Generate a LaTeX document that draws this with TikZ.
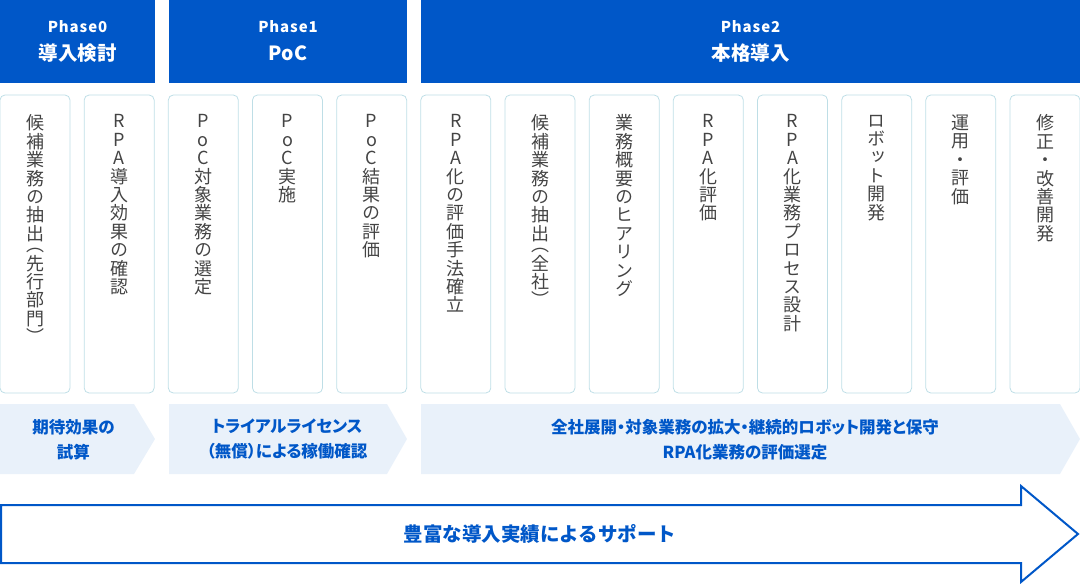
\documentclass[tikz,border=0pt]{standalone}
\usepackage{fontspec}
\setmainfont{Noto Sans CJK JP}
\newfontfamily\vertfont[RawFeature=+vert]{Noto Sans CJK JP}
\newfontfamily\paltfont[RawFeature=+palt]{Noto Sans CJK JP}
\newfontfamily\spacedfont[LetterSpace=6]{Noto Sans CJK JP}
\usepackage{xcolor}
\usepackage{tikz}
\usetikzlibrary{positioning}

\definecolor{phaseblue}{RGB}{0,87,200}
\definecolor{cellline}{RGB}{190,222,230}
\definecolor{celltext}{RGB}{68,68,68}
\definecolor{chevfill}{RGB}{233,241,250}

\begin{document}
\begin{tikzpicture}[x=1pt, y=-1pt,
    phasebox/.style={fill=phaseblue, inner sep=0pt, minimum height=83pt},
    phaselabel/.style={text=white, inner sep=0pt, font=\spacedfont\bfseries\fontsize{15}{18}\selectfont},
    phasetitle/.style={text=white, inner sep=0pt, font=\bfseries\fontsize{19.5}{22}\selectfont},
    taskbox/.style={draw=cellline, line width=0.8pt, rounded corners=5pt, minimum width=70pt, minimum height=298pt, inner sep=0pt},
    tasktext/.style={inner sep=0pt, align=center, text=celltext, font=\vertfont\fontsize{18}{18.4}\selectfont},
    sumtext/.style={text=phaseblue, align=center, font=\paltfont\bfseries\fontsize{16.5}{25}\selectfont}]

    \useasboundingbox (0,0) rectangle (1080,584);

    % phase headers
    \foreach \n/\xl/\xr/\ttl in {0/0/155/導入検討, 1/169/407/PoC, 2/421/1080/本格導入}
    {
        \pgfmathsetmacro{\xm}{(\xl+\xr)/2}
        \pgfmathsetmacro{\boxw}{\xr-\xl}
        \node[phasebox, minimum width=\boxw pt] (ph\n) at (\xm,41.5) {};
        \node[phaselabel] (ph\n-lbl) at (\xm,27) {Phase\n};
        \node[phasetitle] (ph\n-ttl) at (\xm,53) {\ttl};
    }

    % task columns (vertical text)
    \foreach \i/\txt in {
        1/{候\\補\\業\\務\\の\\抽\\出\\[-7pt]（\\先\\行\\部\\門\\）},
        2/{R\\P\\A\\導\\入\\効\\果\\の\\確\\認},
        3/{P\\o\\C\\対\\象\\業\\務\\の\\選\\定},
        4/{P\\o\\C\\実\\施},
        5/{P\\o\\C\\結\\果\\の\\評\\価},
        6/{R\\P\\A\\化\\の\\評\\価\\手\\法\\確\\立},
        7/{候\\補\\業\\務\\の\\抽\\出\\[-7pt]（\\全\\社\\）},
        8/{業\\務\\概\\要\\の\\ヒ\\ア\\リ\\ン\\グ},
        9/{R\\P\\A\\化\\評\\価},
        10/{R\\P\\A\\化\\業\\務\\プ\\ロ\\セ\\ス\\設\\計},
        11/{ロ\\ボ\\ッ\\ト\\開\\発},
        12/{運\\用\\・\\評\\価},
        13/{修\\正\\・\\改\\善\\開\\発}}
    {
        \pgfmathsetmacro{\cx}{35+(\i-1)*84.1667}
        \node[taskbox] (col\i) at (\cx,244) {};
        \node[tasktext, below=20pt of col\i.north] (lbl\i) {\txt};
    }

    % chevrons
    \fill[chevfill] (0,404) -- (134,404) -- (155,439) -- (134,474) -- (0,474) -- cycle;
    \fill[chevfill] (169,404) -- (387,404) -- (407,439) -- (387,474) -- (169,474) -- cycle;
    \fill[chevfill] (421,404) -- (1060,404) -- (1080,439) -- (1060,474) -- (421,474) -- cycle;

    \node[sumtext] (sum0) at (73.5,439.5) {期待効果の\\試算};
    \node[sumtext] (sum1) at (287,439.5) {トライアルライセンス\\（無償）による稼働確認};
    \node[sumtext] (sum2) at (745,439.5) {全社展開・対象業務の拡大・継続的ロボット開発と保守\\RPA化業務の評価選定};

    % support arrow
    \draw[phaseblue, line width=2pt] (1,505) -- (1021,505) -- (1021,486) -- (1078,534) -- (1021,582) -- (1021,563) -- (1,563) -- cycle;
    \node[text=phaseblue, font=\bfseries\fontsize{19.5}{22}\selectfont] (support) at (540,534) {豊富な導入実績によるサポート};
\end{tikzpicture}
\end{document}
